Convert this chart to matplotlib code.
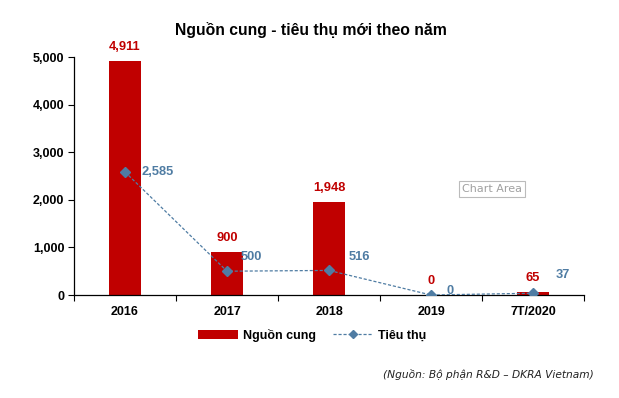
import matplotlib.pyplot as plt
import numpy as np

# ── Data ─────────────────────────────────────────────────────
categories = ['2016', '2017', '2018', '2019', '7T/2020']
supply     = [4911, 900, 1948, 0, 65]
consumed   = [2585, 500, 516, 0, 37]

# label offsets for the consumption labels (points, as placed in the source chart)
cons_offsets = [(12, 0), (10, 10), (14, 10), (11, 3), (16, 13)]

RED  = '#C00000'
BLUE = '#4F7CA3'

plt.rcParams['font.family'] = ['Liberation Sans', 'DejaVu Sans']

fig = plt.figure(figsize=(6.19, 3.98), dpi=100)
ax = fig.add_axes([74/619, 1 - 295/398, 510/619, 238/398])

x = np.arange(len(categories))
bars = ax.bar(x, supply, width=0.31, color=RED, label='Nguồn cung', zorder=2)
line, = ax.plot(x, consumed, color=BLUE, linestyle='--', dashes=(2.5, 1.5), linewidth=0.9,
                marker='D', markersize=5.5, markerfacecolor=BLUE, markeredgecolor=BLUE,
                label='Tiêu thụ', zorder=3)

# data labels
for xi, v in zip(x, supply):
    ax.annotate(f'{v:,}', (xi, v), xytext=(0, 6), textcoords='offset points',
                ha='center', va='bottom', fontsize=9.3, fontweight='bold', color=RED)
for xi, v, off in zip(x, consumed, cons_offsets):
    ax.annotate(f'{v:,}', (xi, v), xytext=off, textcoords='offset points',
                ha='left', va='center', fontsize=9.3, fontweight='bold', color=BLUE)

ax.set_xlim(-0.5, len(categories) - 0.5)
ax.set_ylim(0, 5000)
ax.set_yticks(range(0, 5001, 1000))
ax.set_yticklabels([f'{v:,}' for v in range(0, 5001, 1000)])
ax.set_xticks(x)
ax.set_xticklabels(categories)
ax.set_xticks(np.arange(-0.5, len(categories)), minor=True)
ax.tick_params(axis='x', which='major', length=0, pad=8)
ax.tick_params(axis='x', which='minor', length=4, direction='out', width=0.8)
ax.tick_params(axis='y', length=4, direction='out', width=0.8, pad=3)
for lab in ax.get_xticklabels() + ax.get_yticklabels():
    lab.set_fontsize(9)
    lab.set_fontweight('bold')

for s in ['top', 'right']:
    ax.spines[s].set_visible(False)
for s in ['left', 'bottom']:
    ax.spines[s].set_linewidth(0.9)

fig.text(311/619, 1 - 30/398, 'Nguồn cung - tiêu thụ mới theo năm', ha='center', va='center',
         fontsize=11.3, fontweight='bold')

fig.legend([bars, line], ['Nguồn cung', 'Tiêu thụ'], loc='center',
           bbox_to_anchor=(312/619, 1 - 335/398), ncol=2, frameon=False,
           prop={'weight': 'bold', 'size': 9}, handlelength=3.2, columnspacing=1.3,
           handletextpad=0.4, markerscale=0.7)

# Excel tooltip
fig.text(492/619, 1 - 189/398, 'Chart Area', ha='center', va='center', fontsize=8,
         color='#A0A0A0', family='DejaVu Sans',
         bbox=dict(boxstyle='square,pad=0.3', facecolor='white', edgecolor='#BBBBBB', linewidth=0.8))

fig.text(594/619, 1 - 374/398, '(Nguồn: Bộ phận R&D – DKRA Vietnam)', ha='right', va='center',
         fontsize=7.7, style='italic', family='DejaVu Sans', color='#222222')

plt.savefig('out.png', dpi=100)
